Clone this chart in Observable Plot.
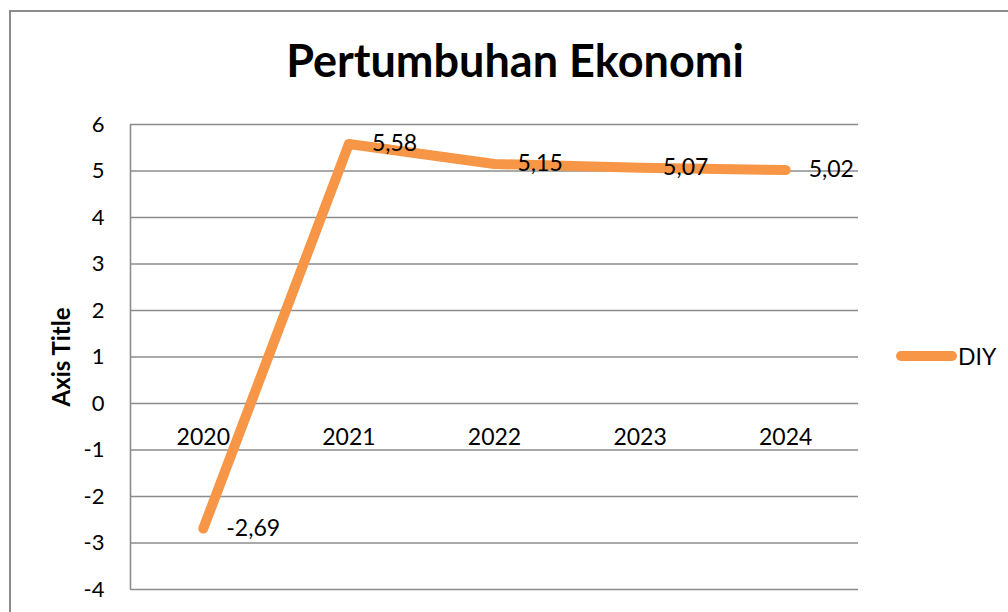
<!DOCTYPE html>
<html>
<head>
<meta charset="utf-8">
<script src="https://cdn.jsdelivr.net/npm/d3@7"></script>
<script src="https://cdn.jsdelivr.net/npm/@observablehq/plot@0.6"></script>
<style>
  html, body { margin: 0; padding: 0; background: #fff; overflow: hidden; }
  #wrap { position: relative; width: 1008px; height: 612px; overflow: hidden; font-family: Lato, "Open Sans", sans-serif; }
  #wrap svg { position: absolute; left: 0; top: 0; }
  #border { position: absolute; left: 9px; top: 10px; width: 1200px; height: 800px; border: 2px solid #8c8c8c; pointer-events: none; }
  #title { position: absolute; left: 10px; width: 1010px; top: 32px; text-align: center; font-weight: bold; font-size: 45px; color: #000; line-height: 56px; }
  #ytitle { position: absolute; left: 61px; top: 357px; transform: translate(-50%, -50%) rotate(-90deg); font-weight: bold; font-size: 24px; color: #000; white-space: nowrap; line-height: 28px; }
  #legend { position: absolute; left: 896px; top: 342px; height: 28px; display: flex; align-items: center; font-size: 23px; color: #000; }
  #legend .swatch { display: inline-block; width: 61px; height: 10px; border-radius: 5px; margin-right: 1px; }
</style>
</head>
<body>
<div id="wrap"></div>
<script>
const years = [2020, 2021, 2022, 2023, 2024];
const diy = [-2.69, 5.58, 5.15, 5.07, 5.02];
const yTicks = [-4, -3, -2, -1, 0, 1, 2, 3, 4, 5, 6];
const seriesName = "DIY";
const chartTitle = "Pertumbuhan Ekonomi";
const yAxisTitle = "Axis Title";
const lineColor = "#F79646";
const gridColor = "#8c8c8c";

const data = years.map((year, i) => ({year, value: diy[i]}));
const fmt = v => v.toFixed(2).replace(".", ",");
const xDomain = [years[0] - 0.5, years[years.length - 1] + 0.5];

const chart = Plot.plot({
  width: 1008,
  height: 612,
  marginLeft: 130,
  marginRight: 150,
  marginTop: 124,
  marginBottom: 23,
  style: {fontFamily: "Lato, 'Open Sans', sans-serif", background: "none", color: "#000"},
  x: {type: "linear", domain: xDomain, axis: null},
  y: {domain: [yTicks[0], yTicks[yTicks.length - 1]], axis: null},
  marks: [
    Plot.ruleY(yTicks, {stroke: gridColor, strokeWidth: 1.6}),
    Plot.ruleX([xDomain[0]], {stroke: gridColor, strokeWidth: 1.6}),
    Plot.axisY(yTicks, {tickSize: 0, tickPadding: 26, fontSize: 22, fill: "#000", label: null, tickFormat: d => String(d)}),
    Plot.text(years, {x: d => d, y: () => 0, dy: 34, fontSize: 23, fill: "#000", text: d => String(d)}),
    Plot.line(data, {x: "year", y: "value", stroke: lineColor, strokeWidth: 10, strokeLinecap: "round", strokeLinejoin: "round"}),
    Plot.text(data, {x: "year", y: "value", text: d => fmt(d.value), textAnchor: "start", dx: 23, fontSize: 23, fill: "#000"})
  ]
});

const wrap = document.getElementById("wrap");
wrap.appendChild(chart);

const title = document.createElement("div");
title.id = "title";
title.textContent = chartTitle;
wrap.appendChild(title);

const ytitle = document.createElement("div");
ytitle.id = "ytitle";
ytitle.textContent = yAxisTitle;
wrap.appendChild(ytitle);

const legend = document.createElement("div");
legend.id = "legend";
const sw = document.createElement("span");
sw.className = "swatch";
sw.style.background = lineColor;
legend.appendChild(sw);
legend.appendChild(document.createTextNode(seriesName));
wrap.appendChild(legend);

const border = document.createElement("div");
border.id = "border";
wrap.appendChild(border);
</script>
</body>
</html>
